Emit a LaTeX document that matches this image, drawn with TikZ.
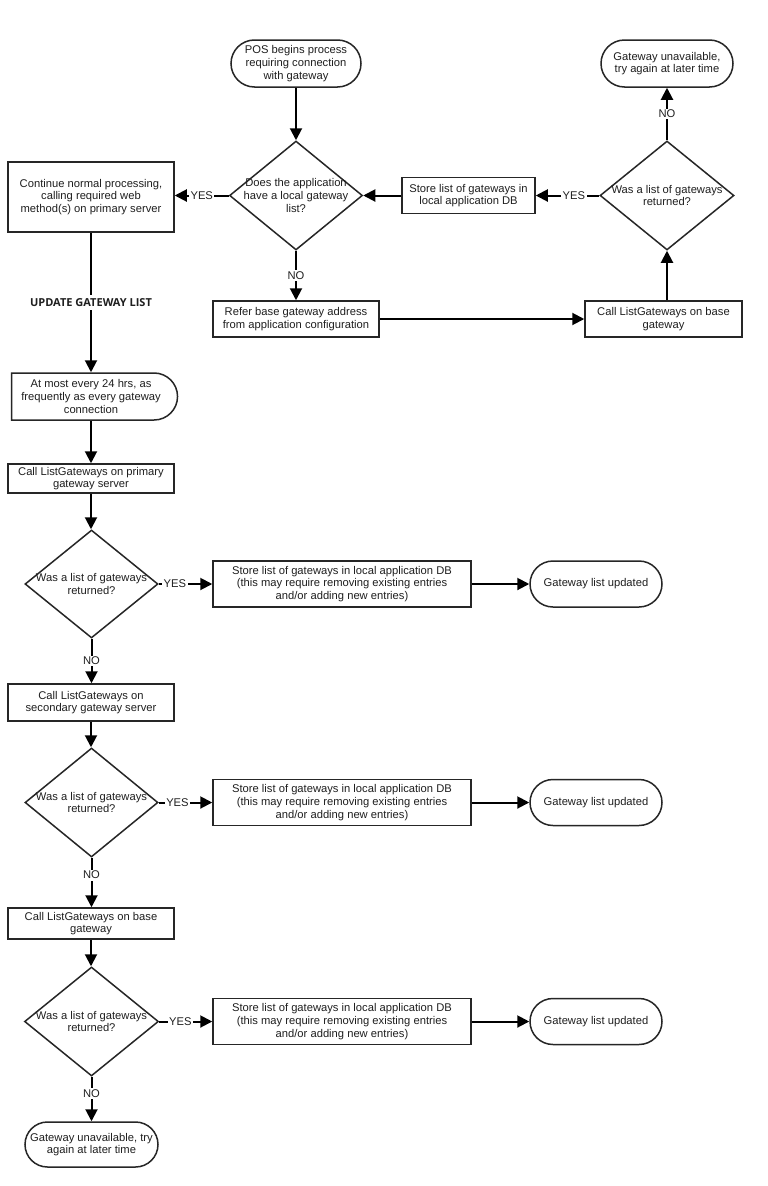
\documentclass[tikz,border=0pt]{standalone}
\usepackage{fontspec}
\setmainfont{Liberation Sans}
\newfontfamily\labfont{Open Sans}
\usetikzlibrary{shapes.geometric,shapes.misc,arrows.meta}
\begin{document}
\begin{tikzpicture}[x=1pt,y=-1pt,
  every node/.style={font=\fontsize{11.2}{12.7}\selectfont, text=black!88},
  box/.style={draw=black!85, line width=1.5pt, align=center, inner sep=0pt},
  term/.style={draw=black!85, rounded rectangle, line width=1.5pt, align=center, inner sep=0pt},
  dly/.style={term, rounded rectangle left arc=none},
  dia/.style={draw=black!85, diamond, line width=1.5pt, inner sep=0pt},
  txt/.style={align=center, inner sep=0pt},
  conn/.style={line width=2pt, draw=black, -{Triangle[length=12pt,width=12pt]}},
  lab/.style={fill=white, inner sep=1.5pt},
  biglab/.style={fill=white, inner sep=3pt, font=\labfont\bfseries\fontsize{11}{13}\selectfont}
]
\fill[white] (0,0) rectangle (768,1186);
\useasboundingbox (0,0) rectangle (768,1186);

% top section
\node[term, minimum width=130, minimum height=47] (start) at (296,63.5) {POS begins process\\requiring connection\\with gateway};
\node[term, minimum width=132, minimum height=47] (gu1) at (667,63.5) {Gateway unavailable,\\try again at later time};
\node[dia, minimum width=133, minimum height=109] (d1) at (296,195.5) {};
\node[txt] at (d1) {Does the application\\have a local gateway\\list?};
\node[box, minimum width=166, minimum height=70] (cont) at (91,197) {Continue normal processing,\\calling required web\\method(s) on primary server};
\node[box, minimum width=133, minimum height=36] (store0) at (468.5,195.5) {Store list of gateways in\\local application DB};
\node[dia, minimum width=134, minimum height=109] (d2) at (667,195.5) {};
\node[txt] at (d2) {Was a list of gateways\\returned?};
\node[box, minimum width=166, minimum height=36] (refer) at (296,319) {Refer base gateway address\\from application configuration};
\node[box, minimum width=157, minimum height=36] (callbase) at (663.5,319) {Call ListGateways on base\\gateway};

% left column
\node[dly, minimum width=166, minimum height=47] (am) at (91,396.5) {At most every 24 hrs, as\\frequently as every gateway\\connection};
\node[box, minimum width=166, minimum height=29] (call1) at (91,478.5) {Call ListGateways on primary\\gateway server};
\node[dia, minimum width=133, minimum height=108] (d3) at (91.5,584) {};
\node[txt] at (d3) {Was a list of gateways\\returned?};
\node[box, minimum width=258, minimum height=46] (store1) at (342,584) {Store list of gateways in local application DB\\(this may require removing existing entries\\and/or adding new entries)};
\node[term, minimum width=132, minimum height=46] (upd1) at (596,584) {Gateway list updated};

\node[box, minimum width=166, minimum height=37] (call2) at (91,702.5) {Call ListGateways on\\secondary gateway server};
\node[dia, minimum width=133, minimum height=109] (d4) at (91.5,802.5) {};
\node[txt] at (d4) {Was a list of gateways\\returned?};
\node[box, minimum width=258, minimum height=46] (store2) at (342,802.5) {Store list of gateways in local application DB\\(this may require removing existing entries\\and/or adding new entries)};
\node[term, minimum width=132, minimum height=46] (upd2) at (596,802.5) {Gateway list updated};

\node[box, minimum width=166, minimum height=31] (call3) at (91,923.5) {Call ListGateways on base\\gateway};
\node[dia, minimum width=134, minimum height=109] (d5) at (91.5,1021.5) {};
\node[txt] at (d5) {Was a list of gateways\\returned?};
\node[box, minimum width=258, minimum height=46] (store3) at (342,1021.5) {Store list of gateways in local application DB\\(this may require removing existing entries\\and/or adding new entries)};
\node[term, minimum width=132, minimum height=46] (upd3) at (596,1021.5) {Gateway list updated};
\node[term, minimum width=133, minimum height=45] (gu2) at (91.5,1144.5) {Gateway unavailable, try\\again at later time};

% connectors top
\draw[conn] (start.south) -- (d1.north);
\draw[conn] (d1.west) -- node[lab]{YES} (d1.west -| cont.east);
\draw[conn] (d1.south) -- node[lab]{NO} (refer.north);
\draw[conn] (refer.east) -- (refer.east -| callbase.west);
\draw[conn] (d2.south |- callbase.north) -- (d2.south);
\draw[conn] (d2.north) -- node[lab]{NO} (gu1.south);
\draw[conn] (d2.west) -- node[lab, pos=0.4]{YES} (store0.east);
\draw[conn] (store0.west) -- (d1.east);

% left column connectors
\draw[conn] (cont.south) -- node[biglab]{UPDATE GATEWAY LIST} (am.north);
\draw[conn] (am.south) -- (call1.north);
\draw[conn] (call1.south) -- (d3.north -| call1.south);
\draw[conn] (d3.east) -- node[lab, pos=0.3]{YES} (d3.east -| store1.west);
\draw[conn] (store1.east) -- (upd1.west);
\draw[conn] (d3.south) -- node[lab]{NO} (d3.south |- call2.north);
\draw[conn] (call2.south) -- (d4.north -| call2.south);
\draw[conn] (d4.east) -- node[lab, pos=0.35]{YES} (d4.east -| store2.west);
\draw[conn] (store2.east) -- (upd2.west);
\draw[conn] (d4.south) -- node[lab, pos=0.35]{NO} (d4.south |- call3.north);
\draw[conn] (call3.south) -- (d5.north -| call3.south);
\draw[conn] (d5.east) -- node[lab, pos=0.4]{YES} (d5.east -| store3.west);
\draw[conn] (store3.east) -- (upd3.west);
\draw[conn] (d5.south) -- node[lab, pos=0.37]{NO} (gu2.north);
\end{tikzpicture}
\end{document}
